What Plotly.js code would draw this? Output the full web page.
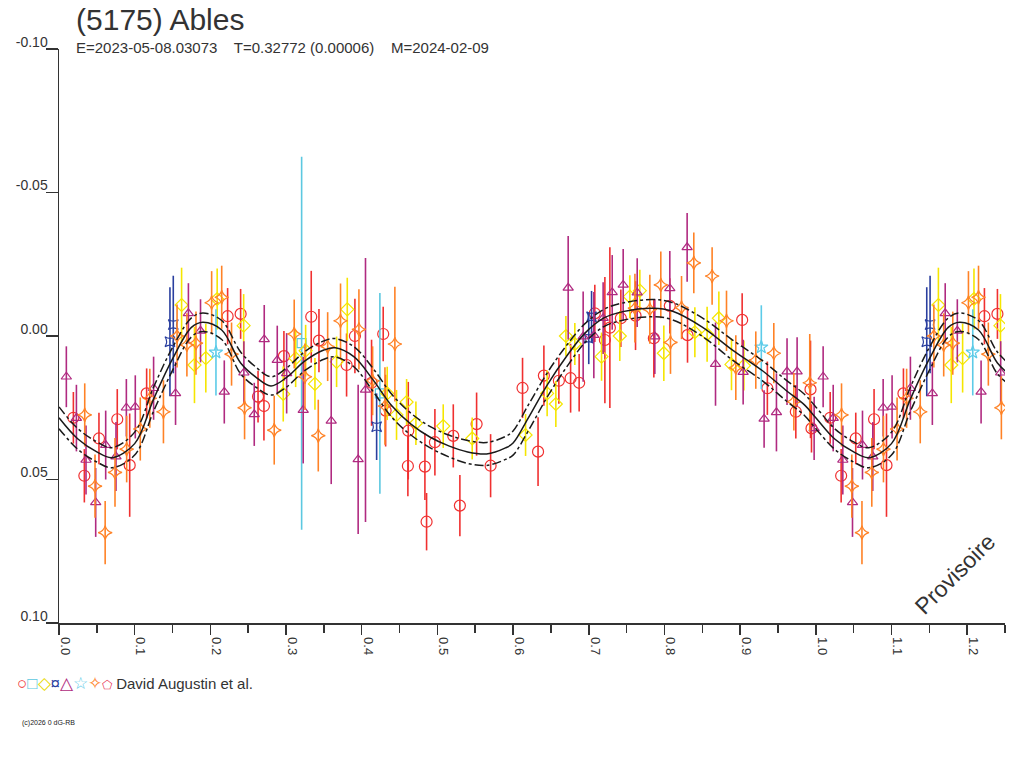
<!DOCTYPE html>
<html>
<head>
<meta charset="utf-8">
<script src="https://cdn.plot.ly/plotly-3.0.1.min.js"></script>
<style>
  html, body { margin: 0; padding: 0; background: #fff; }
  #chart { width: 1024px; height: 768px; }
</style>
</head>
<body>
<div id="chart"></div>
<script>
// phase, magnitude, error for each observing session
var redPhase = [0.019, 0.0335, 0.0528, 0.077, 0.0934, 0.1158, 0.2228, 0.240, 0.263, 0.2708, 0.2972, 0.3333, 0.3435, 0.380, 0.391, 0.413, 0.4284, 0.4316, 0.4615, 0.461, 0.4835, 0.4857, 0.4967, 0.521, 0.5297, 0.5518, 0.5703, 0.6125, 0.633, 0.6407, 0.6605, 0.676, 0.6873, 0.708, 0.7213, 0.7279, 0.7424, 0.7618, 0.786, 0.8071, 0.8305, 0.9027, 0.936, 0.9736, 0.993, 0.9943];
var redMag   = [0.0285, 0.0487, 0.0357, 0.029, 0.045, 0.020, -0.0069, -0.0077, 0.0211, 0.0244, 0.007, -0.0067, 0.0016, 0.0101, 0.0, 0.0163, -0.0007, 0.026, 0.033, 0.0453, 0.0455, 0.0647, 0.037, 0.0348, 0.0591, 0.0307, 0.0452, 0.0181, 0.0403, 0.0138, 0.0156, 0.0147, 0.0163, -0.0079, 0.0014, -0.0029, -0.0062, -0.0071, 0.0008, -0.0105, -0.0003, -0.0056, 0.0182, 0.0264, 0.0186, 0.0322];
var redErr   = [0.009, 0.0093, 0.009, 0.0105, 0.018, 0.0087, 0.0098, 0.0087, 0.009, 0.012, 0.0087, 0.016, 0.011, 0.011, 0.013, 0.015, 0.0095, 0.0125, 0.017, 0.0105, 0.0116, 0.010, 0.0116, 0.011, 0.0107, 0.011, 0.011, 0.0105, 0.012, 0.0105, 0.008, 0.012, 0.010, 0.010, 0.022, 0.028, 0.010, 0.012, 0.0137, 0.0096, 0.0096, 0.0093, 0.0093, 0.0093, 0.017, 0.0084];

var cyanPhase = [0.3206, 0.424];
var cyanMag   = [0.0025, 0.020];
var cyanErr   = [0.065, 0.035];

var yellowPhase = [0.162, 0.179, 0.194, 0.209, 0.244, 0.2963, 0.3127, 0.3259, 0.3382, 0.3668, 0.3809, 0.4337, 0.446, 0.4593, 0.4716, 0.5077, 0.546, 0.6165, 0.645, 0.6565, 0.6698, 0.6816, 0.7169, 0.741, 0.7543, 0.7675, 0.7992, 0.8402, 0.8564, 0.8719, 0.8886, 0.905];
var yellowMag   = [-0.0108, 0.0101, 0.0077, -0.0129, -0.0036, 0.0202, 0.0078, 0.0051, 0.0167, 0.009, -0.0093, 0.020, 0.0275, 0.023, 0.0304, 0.0314, 0.0357, 0.0345, 0.020, 0.0237, 0.0, 0.0028, 0.0072, 0.0, -0.0137, -0.0158, 0.006, -0.0013, -0.0006, -0.0062, 0.0099, 0.0103];
var yellowErr   = [0.013, 0.0133, 0.012, 0.0106, 0.011, 0.0096, 0.010, 0.009, 0.009, 0.0088, 0.011, 0.0093, 0.0087, 0.008, 0.0076, 0.0076, 0.0073, 0.0073, 0.008, 0.008, 0.007, 0.0073, 0.0084, 0.0087, 0.0075, 0.0073, 0.0097, 0.0087, 0.0096, 0.0093, 0.009, 0.0087];

var navyPhase = [0.1466, 0.151, 0.4197, 0.700, 0.7037];
var navyMag   = [0.002, -0.004, 0.0316, 0.0008, -0.0067];
var navyErr   = [0.019, 0.017, 0.0116, 0.009, 0.009];

var purplePhase = [0.0097, 0.023, 0.0357, 0.0485, 0.0617, 0.0753, 0.089, 0.1008, 0.125, 0.154, 0.171, 0.187, 0.2184, 0.2443, 0.258, 0.2712, 0.2884, 0.3008, 0.3227, 0.3597, 0.3953, 0.405, 0.6728, 0.6926, 0.7067, 0.719, 0.731, 0.7455, 0.764, 0.7873, 0.8071, 0.830, 0.8675, 0.904, 0.9317, 0.948, 0.962, 0.9753, 0.9978];
var purpleMag   = [0.0142, 0.0286, 0.0432, 0.058, 0.038, 0.042, 0.025, 0.0247, 0.0182, 0.020, -0.0079, -0.0018, 0.0195, 0.0128, 0.0273, 0.0012, 0.0084, 0.013, 0.0258, 0.0296, 0.043, 0.0188, -0.0168, 0.0002, -0.0003, -0.0062, -0.0152, -0.0178, -0.0151, 0.0002, -0.0166, -0.0309, 0.0098, 0.0126, 0.0289, 0.0266, 0.0124, 0.0124, 0.0322];
var purpleErr   = [0.0106, 0.0116, 0.012, 0.012, 0.012, 0.012, 0.010, 0.011, 0.011, 0.011, 0.0105, 0.011, 0.011, 0.011, 0.011, 0.012, 0.012, 0.014, 0.0186, 0.022, 0.026, 0.046, 0.018, 0.0157, 0.015, 0.0125, 0.013, 0.0125, 0.012, 0.013, 0.013, 0.012, 0.0145, 0.0113, 0.010, 0.0136, 0.0116, 0.012, 0.011];

var skyPhase = [0.2074, 0.928];
var skyMag   = [0.0057, 0.0039];
var skyErr   = [0.015, 0.0146];

var orangePhase = [0.034, 0.0476, 0.061, 0.074, 0.0894, 0.1074, 0.120, 0.138, 0.156, 0.169, 0.181, 0.2017, 0.215, 0.228, 0.2452, 0.2844, 0.3108, 0.325, 0.3426, 0.355, 0.372, 0.3963, 0.4144, 0.4307, 0.4438, 0.761, 0.7807, 0.7952, 0.808, 0.8226, 0.8388, 0.863, 0.882, 0.8943, 0.9207, 0.9445, 0.971, 0.992];
var orangeMag   = [0.0275, 0.0523, 0.0685, 0.0475, 0.0394, 0.0324, 0.0217, 0.0264, 0.0, 0.0031, 0.0025, -0.0116, -0.0135, 0.0063, 0.025, 0.0328, -0.0007, 0.0142, 0.0347, 0.0037, -0.0053, -0.0023, 0.0156, 0.0244, 0.0028, -0.0097, -0.0093, -0.0178, 0.0022, -0.0099, -0.0255, -0.0209, -0.0053, 0.011, 0.0084, 0.006, 0.0229, 0.0163];
var orangeErr   = [0.011, 0.011, 0.011, 0.012, 0.0116, 0.011, 0.0103, 0.011, 0.011, 0.011, 0.011, 0.011, 0.011, 0.011, 0.011, 0.012, 0.012, 0.0116, 0.0125, 0.012, 0.013, 0.014, 0.012, 0.0135, 0.020, 0.012, 0.012, 0.0116, 0.011, 0.011, 0.0106, 0.010, 0.0105, 0.0113, 0.010, 0.0105, 0.010, 0.017];

// Fourier fit and its uncertainty band
var fitPhase = [0, 0.025, 0.05, 0.07, 0.10, 0.125, 0.15, 0.175, 0.19, 0.215, 0.24, 0.26, 0.28, 0.30, 0.325, 0.35, 0.365, 0.39, 0.415, 0.44, 0.465, 0.49, 0.515, 0.54, 0.565, 0.59, 0.60, 0.62, 0.645, 0.67, 0.695, 0.72, 0.745, 0.785, 0.81, 0.85, 0.89, 0.93, 0.96, 0.985, 1.0];
var fitMag   = [0.0285, 0.0359, 0.0404, 0.0424, 0.0375, 0.022, 0.008, -0.003, -0.0048, -0.0021, 0.0094, 0.0143, 0.0174, 0.0146, 0.0087, 0.0049, 0.0041, 0.0073, 0.0153, 0.0244, 0.0307, 0.0352, 0.0383, 0.0404, 0.0411, 0.039, 0.0373, 0.0286, 0.0171, 0.0073, -0.001, -0.0063, -0.0085, -0.0097, -0.0087, -0.0031, 0.0049, 0.0122, 0.0188, 0.024, 0.0285];
var fitUpper = [0.0247, 0.0323, 0.0369, 0.0389, 0.0335, 0.0178, 0.004, -0.0063, -0.008, -0.0054, 0.0056, 0.0108, 0.0142, 0.0113, 0.0054, 0.0017, 0.0009, 0.0038, 0.0113, 0.0204, 0.0269, 0.0315, 0.0345, 0.0364, 0.0371, 0.035, 0.0331, 0.0241, 0.0129, 0.0035, -0.0043, -0.0093, -0.0115, -0.0127, -0.0117, -0.0063, 0.0014, 0.0087, 0.0152, 0.0203, 0.0247];
var fitLower = [0.0323, 0.0395, 0.0439, 0.0459, 0.0415, 0.0262, 0.012, 0.0003, -0.0016, 0.0012, 0.0132, 0.0178, 0.0206, 0.0179, 0.012, 0.0081, 0.0073, 0.0108, 0.0193, 0.0284, 0.0345, 0.0389, 0.0421, 0.0444, 0.0451, 0.043, 0.0415, 0.0331, 0.0213, 0.0111, 0.0023, -0.0033, -0.0055, -0.0067, -0.0057, 0.0001, 0.0084, 0.0157, 0.0224, 0.0277, 0.0323];

var yTickVals = [-0.10, -0.05, 0.00, 0.05, 0.10];
var yTickText = ['-0.10', '-0.05', '0.00', '0.05', '0.10'];
var xTickVals = [0.0, 0.1, 0.2, 0.3, 0.4, 0.5, 0.6, 0.7, 0.8, 0.9, 1.0, 1.1, 1.2];
var xTickText = ['0.0', '0.1', '0.2', '0.3', '0.4', '0.5', '0.6', '0.7', '0.8', '0.9', '1.0', '1.1', '1.2'];

var PHASE_END = 1.25;

// the plot shows a quarter of a cycle twice: repeat phases below 0.25 at phase + 1
function repeatX(ph) {
  var out = ph.slice();
  ph.forEach(function (p) { if (p + 1 <= PHASE_END) out.push(p + 1); });
  return out;
}
function repeatY(ph, vals) {
  var out = vals.slice();
  ph.forEach(function (p, i) { if (p + 1 <= PHASE_END) out.push(vals[i]); });
  return out;
}
function repeatCurveX(ph) {
  var out = ph.slice();
  ph.forEach(function (p) { if (p > 0 && p + 1 <= PHASE_END + 0.01) out.push(p + 1); });
  return out;
}
function repeatCurveY(ph, vals) {
  var out = vals.slice();
  ph.forEach(function (p, i) { if (p > 0 && p + 1 <= PHASE_END + 0.01) out.push(vals[i]); });
  return out;
}

function session(ph, mag, err, color, symbol, size) {
  return {
    x: repeatX(ph),
    y: repeatY(ph, mag),
    type: 'scatter',
    mode: 'markers',
    hoverinfo: 'skip',
    marker: { symbol: symbol, size: size, color: color, line: { color: color, width: 1.2 } },
    error_y: { type: 'data', array: repeatY(ph, err), visible: true, color: color, thickness: 1.6, width: 0 },
    showlegend: false
  };
}

function fitLine(vals, dash) {
  return {
    x: repeatCurveX(fitPhase),
    y: repeatCurveY(fitPhase, vals),
    type: 'scatter',
    mode: 'lines',
    hoverinfo: 'skip',
    line: { color: '#1a1a1a', width: 1.5, dash: dash, shape: 'spline', smoothing: 1 },
    showlegend: false
  };
}

var data = [
  session(redPhase, redMag, redErr, '#f03030', 'circle-open', 11),
  session(cyanPhase, cyanMag, cyanErr, '#5cc8e0', 'square-open', 9),
  session(yellowPhase, yellowMag, yellowErr, '#f5e600', 'diamond-open', 10),
  session(navyPhase, navyMag, navyErr, '#2a3f9f', 'star-square-open', 9),
  session(purplePhase, purpleMag, purpleErr, '#b02a80', 'triangle-up-open', 9),
  session(skyPhase, skyMag, skyErr, '#5ccbe8', 'star-open', 10),
  session(orangePhase, orangeMag, orangeErr, '#ff8226', 'star-diamond-open', 10),
  fitLine(fitUpper, '9px,3px,3px,3px'),
  fitLine(fitMag, 'solid'),
  fitLine(fitLower, '9px,3px,3px,3px')
];

var font = 'Liberation Sans, Arial, sans-serif';
function sym(color, ch) {
  return '<span style="color:' + color + ';font-size:17px">' + ch + '</span>';
}
var legendText =
  sym('#f03030', '○') + sym('#5cc8e0', '□') + sym('#e8d800', '◇') + sym('#2a3f9f', '¤') +
  sym('#b02a80', '△') + sym('#5ccbe8', '☆') + sym('#ff8226', '✧') +
  '<span style="color:#e83050;font-size:12px">⬠</span>' +
  ' David Augustin et al.';

var layout = {
  width: 1024,
  height: 768,
  margin: { l: 59, r: 19, t: 49, b: 145 },
  paper_bgcolor: '#ffffff',
  plot_bgcolor: '#ffffff',
  font: { family: font, color: '#333333' },
  title: {
    text: '(5175) Ables',
    font: { family: font, size: 30, color: '#333333' },
    xref: 'paper', x: 0.018, xanchor: 'left',
    yref: 'container', y: 0.975, yanchor: 'middle'
  },
  xaxis: {
    range: [0, PHASE_END],
    tickvals: xTickVals,
    ticktext: xTickText,
    tickangle: 90,
    ticks: 'outside',
    ticklen: 10,
    tickwidth: 1.5,
    tickcolor: '#333333',
    ticklabelshift: 6,
    tickfont: { family: font, size: 13, color: '#333333' },
    minor: { dtick: 0.05, tick0: 0, ticks: 'outside', ticklen: 8, tickwidth: 1.5, tickcolor: '#333333' },
    showline: true,
    linecolor: '#333333',
    linewidth: 1.5,
    showgrid: false,
    zeroline: false
  },
  yaxis: {
    range: [0.10, -0.10],
    tickvals: yTickVals,
    ticktext: yTickText,
    ticks: 'outside',
    ticklen: 12,
    tickwidth: 1.5,
    tickcolor: '#333333',
    ticklabelstandoff: -5,
    ticklabelshift: 7,
    tickfont: { family: font, size: 14, color: '#333333' },
    showline: true,
    linecolor: '#333333',
    linewidth: 1.5,
    showgrid: false,
    zeroline: false
  },
  annotations: [
    {
      text: 'E=2023-05-08.03073    T=0.32772 (0.00006)    M=2024-02-09',
      xref: 'paper', yref: 'paper', x: 0.016, y: 1.002, xanchor: 'left', yanchor: 'middle',
      showarrow: false, font: { family: font, size: 15, color: '#333333' }
    },
    {
      text: 'Provisoire',
      xref: 'paper', yref: 'paper', x: 0.947, y: 0.085, xanchor: 'center', yanchor: 'middle',
      textangle: -45, showarrow: false, font: { family: font, size: 23, color: '#333333' }
    },
    {
      text: legendText,
      xref: 'paper', yref: 'paper', x: -0.046, y: -0.106, xanchor: 'left', yanchor: 'middle',
      showarrow: false, font: { family: font, size: 15, color: '#333333' }
    },
    {
      text: '(c)2026 0 dG-RB',
      xref: 'paper', yref: 'paper', x: -0.041, y: -0.175, xanchor: 'left', yanchor: 'middle',
      showarrow: false, font: { family: font, size: 7, color: '#222222' }
    }
  ]
};

Plotly.newPlot('chart', data, layout, { displayModeBar: false, staticPlot: true });
</script>
</body>
</html>
